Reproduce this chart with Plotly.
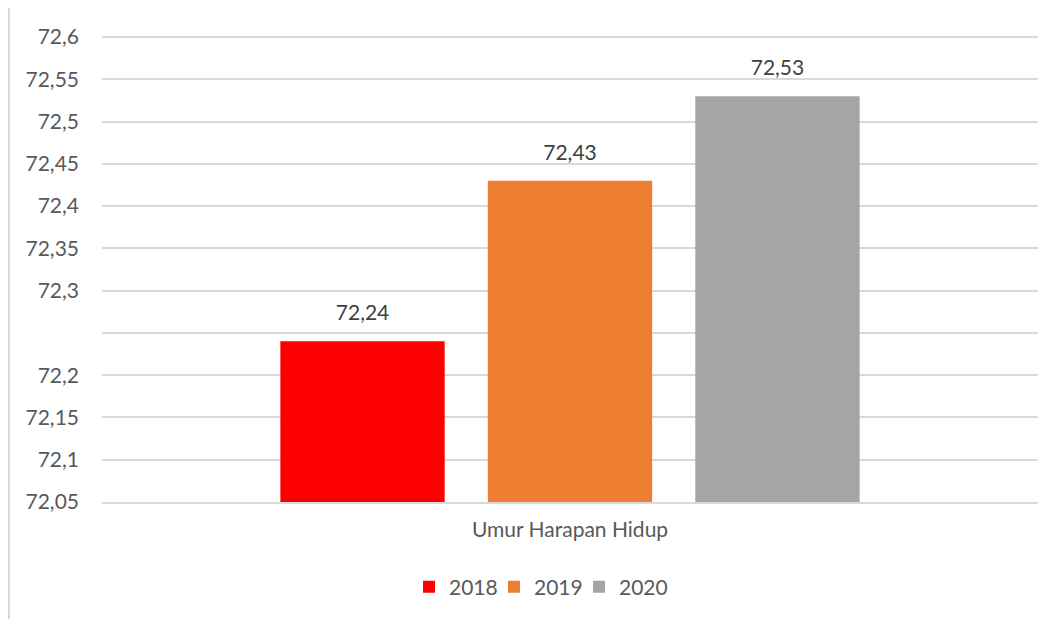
import plotly.graph_objects as go

categories = ["Umur Harapan Hidup"]
years = ["2018", "2019", "2020"]
values = [[72.24], [72.43], [72.53]]
colors = ["#FF0000", "#ED7D31", "#A5A5A5"]

tick_vals = [72.05, 72.10, 72.15, 72.20, 72.25, 72.30, 72.35, 72.40, 72.45, 72.50, 72.55, 72.60]
tick_text = ["72,05", "72,1", "72,15", "72,2", "", "72,3", "72,35", "72,4", "72,45", "72,5", "72,55", "72,6"]

FONT = "Lato"
LEGEND_W = [40, 40, 60]
fig = go.Figure()
for yr, vals, col, lw in zip(years, values, colors, LEGEND_W):
    fig.add_trace(go.Bar(
        name=yr, x=categories, y=vals, marker_color=col, marker_line_width=0,
        offsetgroup=yr, alignmentgroup="a", legendwidth=lw,
        hoverinfo="x+y+name",
    ))
for yr, vals in zip(years, values):
    fig.add_trace(go.Scatter(
        x=categories, y=vals, mode="markers+text", offsetgroup=yr, alignmentgroup="a",
        marker=dict(size=24, opacity=0), texttemplate="%{y:.2f}", textposition="top center",
        textfont=dict(family=FONT, size=21, color="#404040"),
        showlegend=False, hoverinfo="skip", cliponaxis=False,
    ))

fig.update_layout(
    width=1052, height=611,
    margin=dict(l=94, r=22, t=27, b=117, autoexpand=False),
    paper_bgcolor="white", plot_bgcolor="white",
    separators=",.",
    barmode="group", bargap=0.335, bargroupgap=0.208,
    scattermode="group", scattergap=0.335,
    font=dict(family=FONT, size=21, color="#595959"),
    showlegend=True,
    legend=dict(orientation="h", x=0.328, xanchor="left", y=-0.182, yanchor="middle",
                entrywidthmode="pixels",
                font=dict(family=FONT, size=21, color="#595959"), traceorder="normal"),
    xaxis=dict(showgrid=False, showline=True, linecolor="#D9D9D9", linewidth=2,
               ticks="", automargin=False, ticklabelstandoff=8,
               tickfont=dict(family=FONT, size=21, color="#595959")),
    yaxis=dict(range=[72.05, 72.6024], tickvals=tick_vals, ticktext=tick_text,
               showgrid=True, gridcolor="#D9D9D9", gridwidth=1.5, zeroline=False,
               showline=False, ticks="", ticklabelstandoff=22, automargin=False,
               tickfont=dict(family=FONT, size=21, color="#595959")),
    shapes=[dict(type="line", xref="paper", yref="paper", x0=-0.0994, x1=-0.0994,
                 y0=-0.26, y1=1.06, line=dict(color="#D9D9D9", width=2))],
)

fig.write_html("out.html")
